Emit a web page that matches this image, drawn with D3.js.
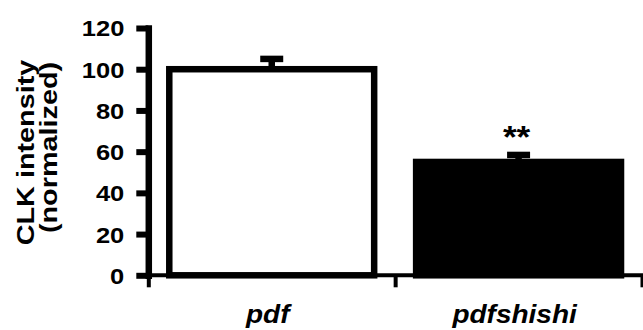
<!DOCTYPE html>
<html>
<head>
<meta charset="utf-8">
<style>
  html, body { margin: 0; padding: 0; background: #fff; }
  svg { display: block; font-family: "Liberation Sans", Arial, sans-serif; }
</style>
</head>
<body>
<svg id="chart" width="643" height="330"></svg>
<script src="https://cdn.jsdelivr.net/npm/d3@7/dist/d3.min.js"></script>
<script>
  // data
  const genotypes = ['pdf', 'pdfshishi'];
  const clkMeans = [100, 55];
  const clkErrors = [5, 3.4];
  const signif = ['', '**'];
  const yTicks = [0, 20, 40, 60, 80, 100, 120];

  const svg = d3.select('#chart');
  const ink = '#000';

  const y = d3.scaleLinear().domain([0, 120]).range([275.3, 28]);

  // bands for the bars and a linear scale for the boundary ticks
  const x = d3.scaleBand()
      .domain(genotypes)
      .range([148.3, 642])
      .paddingInner(0.17)
      .paddingOuter(0.085);
  const xEdge = d3.scaleLinear().domain([0, genotypes.length]).range([148.3, 642]);
  const xMid = d3.scaleBand().domain(genotypes).range([148.3, 642]);

  // bars
  svg.append('g').selectAll('rect')
      .data(genotypes)
      .join('rect')
      .attr('x', d => x(d))
      .attr('width', x.bandwidth())
      .attr('y', (d, i) => y(clkMeans[i]))
      .attr('height', (d, i) => y(0) - y(clkMeans[i]))
      .attr('fill', (d, i) => i === 0 ? '#fff' : ink)
      .attr('stroke', ink)
      .attr('stroke-width', 6.5);

  // error bars (upper only)
  const err = svg.append('g').attr('stroke', ink).attr('stroke-width', 6.5);
  genotypes.forEach((g, i) => {
    const cx = x(g) + x.bandwidth() / 2;
    err.append('line')
        .attr('x1', cx).attr('x2', cx)
        .attr('y1', y(clkMeans[i])).attr('y2', y(clkMeans[i] + clkErrors[i]));
    err.append('line')
        .attr('x1', cx - 11.5).attr('x2', cx + 11.5)
        .attr('y1', y(clkMeans[i] + clkErrors[i])).attr('y2', y(clkMeans[i] + clkErrors[i]));
  });

  // significance stars
  svg.append('g').selectAll('text')
      .data(genotypes)
      .join('text')
      .attr('transform', (d, i) => `translate(${x(d) + x.bandwidth() / 2 - 2},${y(clkMeans[i] + clkErrors[i]) - 6.5}) scale(1.1,1)`)
      .attr('text-anchor', 'middle')
      .attr('font-size', 32)
      .attr('font-weight', 'bold')
      .text((d, i) => signif[i]);

  // x axis
  const xAxis = svg.append('g')
      .attr('transform', `translate(0,${y(0)})`)
      .call(d3.axisBottom(xEdge).tickValues(d3.range(genotypes.length + 1)).tickSize(12).tickSizeOuter(0).tickFormat(''));
  xAxis.select('.domain').attr('stroke', ink).attr('stroke-width', 4).attr('d', `M${xEdge(0)},0H643`);
  xAxis.selectAll('.tick line').attr('stroke', ink).attr('stroke-width', 4);

  svg.append('g').selectAll('text')
      .data(genotypes)
      .join('text')
      .attr('transform', d => `translate(${xMid(d) + xMid.bandwidth() / 2 - 4},323) scale(1.12,1)`)
      .attr('text-anchor', 'middle')
      .attr('font-size', 25)
      .attr('font-weight', 'bold')
      .attr('font-style', 'italic')
      .text(d => d);

  // y axis
  const yAxis = svg.append('g')
      .attr('transform', `translate(${xEdge(0)},0)`)
      .call(d3.axisLeft(y).tickValues(yTicks).tickSize(12).tickSizeOuter(0).tickPadding(0));
  yAxis.select('.domain').attr('stroke', ink).attr('stroke-width', 6.5).attr('stroke-linecap', 'square');
  yAxis.selectAll('.tick line').attr('stroke', ink).attr('stroke-width', 6);
  yAxis.selectAll('.tick text')
      .attr('fill', ink)
      .attr('font-size', 22)
      .attr('font-weight', 'bold')
      .attr('font-family', '"Liberation Sans", Arial, sans-serif')
      .attr('x', -24 / 1.16)
      .attr('dy', '0.36em')
      .attr('transform', 'scale(1.16,1)');

  // y title, two lines
  const titleLines = ['CLK intensity', '(normalized)'];
  const titleX = [33.5, 57];
  const titleY = [152.5, 147.5];
  svg.append('g').selectAll('text')
      .data(titleLines)
      .join('text')
      .attr('transform', (d, i) => `translate(${titleX[i]},${titleY[i]}) rotate(-90) scale(1.2,1)`)
      .attr('text-anchor', 'middle')
      .attr('font-size', 24)
      .attr('font-weight', 'bold')
      .text(d => d);
</script>
</body>
</html>
